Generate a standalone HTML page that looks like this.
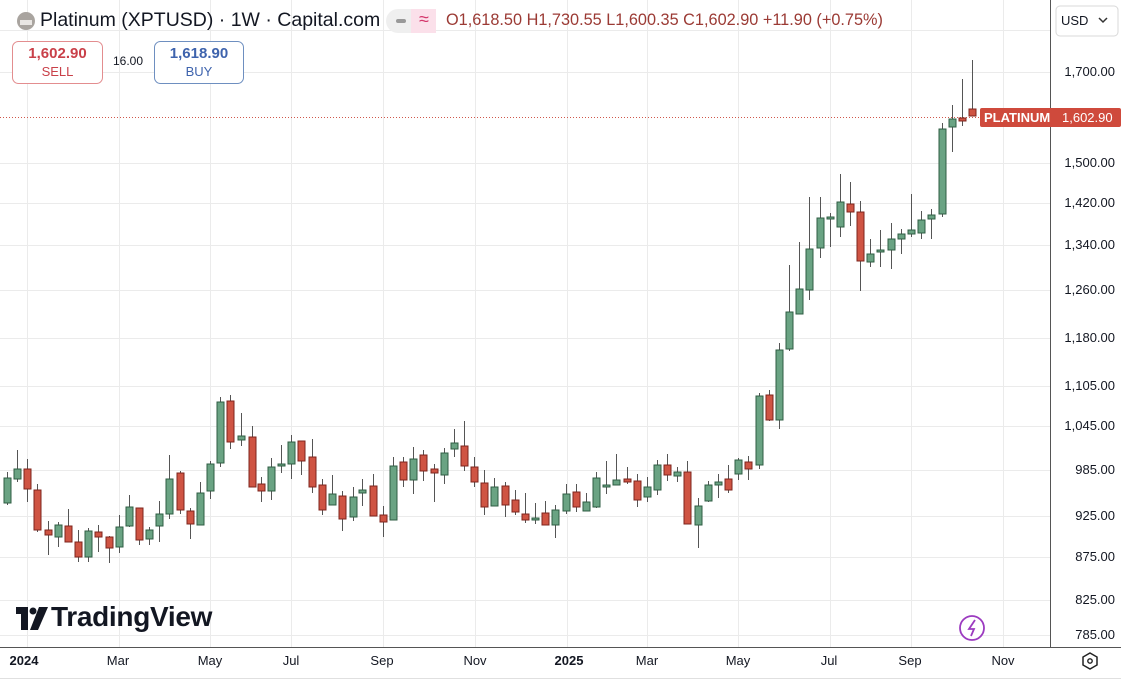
<!DOCTYPE html>
<html><head><meta charset="utf-8"><style>
body{margin:0;background:#fff;font-family:"Liberation Sans",sans-serif;}
#w{position:relative;width:1121px;height:680px;overflow:hidden;background:#fff}
svg{position:absolute;left:0;top:0}
.t{position:absolute;white-space:nowrap}
</style></head><body><div id="w">
<svg width="1121" height="680" id="s">
<g stroke="#ebebeb" stroke-width="1">
<line x1="0" y1="30.5" x2="1050" y2="30.5"/><line x1="0" y1="72.5" x2="1050" y2="72.5"/><line x1="0" y1="163.5" x2="1050" y2="163.5"/><line x1="0" y1="203.5" x2="1050" y2="203.5"/><line x1="0" y1="245.5" x2="1050" y2="245.5"/><line x1="0" y1="290.5" x2="1050" y2="290.5"/><line x1="0" y1="338.5" x2="1050" y2="338.5"/><line x1="0" y1="386.5" x2="1050" y2="386.5"/><line x1="0" y1="426.5" x2="1050" y2="426.5"/><line x1="0" y1="470.5" x2="1050" y2="470.5"/><line x1="0" y1="516.5" x2="1050" y2="516.5"/><line x1="0" y1="557.5" x2="1050" y2="557.5"/><line x1="0" y1="600.5" x2="1050" y2="600.5"/><line x1="0" y1="635.5" x2="1050" y2="635.5"/>
<line x1="27.5" y1="0" x2="27.5" y2="647"/><line x1="119.5" y1="0" x2="119.5" y2="647"/><line x1="210.5" y1="0" x2="210.5" y2="647"/><line x1="291.5" y1="0" x2="291.5" y2="647"/><line x1="383.5" y1="0" x2="383.5" y2="647"/><line x1="475.5" y1="0" x2="475.5" y2="647"/><line x1="567.5" y1="0" x2="567.5" y2="647"/><line x1="647.5" y1="0" x2="647.5" y2="647"/><line x1="738.5" y1="0" x2="738.5" y2="647"/><line x1="830.5" y1="0" x2="830.5" y2="647"/><line x1="911.5" y1="0" x2="911.5" y2="647"/><line x1="1003.5" y1="0" x2="1003.5" y2="647"/>
</g>
<line x1="0" y1="117.5" x2="980" y2="117.5" stroke="#d0574b" stroke-width="1" stroke-dasharray="1,2"/>
<g id="c"></g>
<line x1="1050.5" y1="0" x2="1050.5" y2="647" stroke="#555" stroke-width="1"/>
<line x1="0" y1="647.5" x2="1121" y2="647.5" stroke="#555" stroke-width="1"/>
<line x1="0" y1="678.5" x2="1121" y2="678.5" stroke="#e0e0e0"/>
<rect x="980" y="108" width="141" height="19" rx="2" fill="#cf4a3c"/>
<rect x="1056" y="6" width="62" height="30" rx="4" fill="#fff" stroke="#d8d8d8"/>
<path d="M1099 18 l4 4 l4 -4" fill="none" stroke="#333" stroke-width="1.5"/>
<circle cx="972" cy="628" r="12" fill="#fff" stroke="#9c3bc0" stroke-width="1.8"/>
<path d="M975 620 l-6 9 h5 l-3 7" fill="none" stroke="#9c3bc0" stroke-width="1.8"/>
<polygon points="1090,653 1097,657 1097,665 1090,669 1083,665 1083,657" fill="none" stroke="#222" stroke-width="1.5"/>
<circle cx="1090" cy="661" r="2.2" fill="none" stroke="#222" stroke-width="1.4"/>
<circle cx="26" cy="21" r="9" fill="#a9a49f"/>
<rect x="20" y="20" width="12" height="5" fill="#e9e6e3"/>
<rect x="386" y="9" width="50" height="24" rx="12" fill="#efefef"/>
<rect x="411" y="9" width="25" height="24" rx="0" fill="#fbe0ea"/>
<rect x="396" y="19" width="10" height="4" rx="2" fill="#999"/>
<rect x="12.5" y="41.5" width="90" height="42" rx="6" fill="#fff" stroke="#e38d8f"/>
<rect x="154.5" y="41.5" width="89" height="42" rx="6" fill="#fff" stroke="#6e8fc0"/>
<rect x="16" y="607" width="10" height="7" fill="#131722"/><rect x="21" y="607" width="7" height="23" fill="#131722"/>
<circle cx="33" cy="611" r="3.5" fill="#131722"/><polygon points="39,607 48,607 38,630 30,630" fill="#131722"/>
</svg>
<div class="t" style="left:40px;top:9px;font-size:19.5px;color:#131722">Platinum (XPTUSD) · 1W · Capital.com</div>
<div class="t" style="left:419px;top:9px;font-size:18px;color:#d4366b">≈</div>
<div class="t" style="left:446px;top:11px;font-size:16.3px;color:#9b3a34">O1,618.50 H1,730.55 L1,600.35 C1,602.90 +11.90 (+0.75%)</div>
<div class="t" style="left:12px;top:45px;width:91px;text-align:center;font-size:15px;font-weight:bold;color:#c94049">1,602.90</div>
<div class="t" style="left:12px;top:64px;width:91px;text-align:center;font-size:13px;color:#c94049">SELL</div>
<div class="t" style="left:113px;top:54px;font-size:12px;color:#131722">16.00</div>
<div class="t" style="left:154px;top:45px;width:90px;text-align:center;font-size:15px;font-weight:bold;color:#3e63ad">1,618.90</div>
<div class="t" style="left:154px;top:64px;width:90px;text-align:center;font-size:13px;color:#3e63ad">BUY</div>
<div class="t" style="left:1061px;top:13px;font-size:13px;color:#131722">USD</div>
<div class="t" style="left:984px;top:110px;font-size:13px;color:#fff;font-weight:bold">PLATINUM</div>
<div class="t" style="left:1062px;top:110px;font-size:13px;color:#fff">1,602.90</div>
<div class="t" style="left:51px;top:601px;font-size:28px;font-weight:bold;color:#131722;letter-spacing:-0.3px">TradingView</div>
<div id="ax"></div>
<div id="bx"></div>
</div>
<script>
var d=[[7,472,505,478,503,1],[17,450,482,469,479,1],[27,459,502,469,489,0],[37,484,532,490,530,0],[48,521,555,530,535,0],[58,522,547,525,537,1],[68,509,542,526,542,0],[78,530,562,542,557,0],[88,528,562,531,557,1],[98,525,552,532,537,0],[109,536,563,537,548,0],[119,515,553,527,547,1],[129,495,527,507,526,1],[139,508,545,508,540,0],[149,527,545,530,539,1],[159,501,542,514,526,1],[169,455,519,479,514,1],[180,471,514,473,510,0],[190,508,539,511,524,0],[200,482,525,493,525,1],[210,461,499,464,491,1],[220,397,467,402,463,1],[230,395,449,401,442,0],[241,413,446,436,440,1],[252,426,487,437,487,0],[261,477,502,484,491,0],[271,458,500,467,491,1],[281,445,473,464,465,1],[291,435,479,442,464,1],[301,441,475,441,461,0],[312,439,493,457,487,0],[322,479,515,485,510,0],[332,475,505,494,505,1],[342,491,531,496,519,0],[353,487,521,497,517,1],[362,479,506,490,493,1],[373,474,516,486,516,0],[383,506,537,515,522,0],[393,457,520,466,520,1],[403,457,487,462,480,0],[413,447,494,459,480,1],[423,450,481,455,471,0],[434,464,502,469,473,0],[444,448,484,453,475,1],[454,429,457,443,449,1],[464,421,471,446,466,0],[474,457,487,467,482,0],[484,470,515,483,507,0],[494,478,506,487,506,1],[505,482,517,486,505,0],[515,490,515,500,512,0],[525,493,523,514,520,0],[535,503,524,518,520,1],[545,501,525,513,525,0],[555,505,538,510,525,1],[566,484,514,494,511,1],[576,484,512,492,507,0],[586,493,511,502,511,1],[596,472,508,478,507,1],[606,461,494,485,486,1],[616,454,485,480,485,1],[627,467,484,479,482,0],[637,474,507,481,500,0],[647,477,502,487,497,1],[657,460,495,465,490,1],[667,454,481,465,475,0],[677,467,482,472,476,1],[687,461,524,472,524,0],[698,498,548,506,525,1],[708,481,502,485,501,1],[718,474,498,482,485,1],[728,465,493,479,490,0],[738,458,480,460,474,1],[748,456,480,462,469,0],[759,393,469,396,465,1],[769,390,421,395,420,0],[779,343,429,350,420,1],[789,265,351,312,349,1],[799,242,314,289,314,1],[809,197,300,249,290,1],[820,197,258,218,248,1],[830,213,247,217,219,1],[840,174,237,202,227,1],[850,182,226,204,212,0],[860,201,291,212,261,0],[870,239,267,254,262,1],[880,230,267,250,252,1],[891,223,269,239,250,1],[901,229,254,234,239,1],[911,194,237,230,234,1],[921,211,239,220,233,1],[931,209,239,215,219,1],[942,123,217,129,214,1],[952,105,152,119,127,1],[962,79,126,118,121,0],[972,60,116,109,116,0]];
var h='';d.forEach(function(c){var f=c[5]?'#6aa383':'#cf5443',s=c[5]?'#2f5c43':'#7d241c';
h+='<line x1="'+(c[0]+.5)+'" y1="'+c[1]+'" x2="'+(c[0]+.5)+'" y2="'+c[2]+'" stroke="#555" stroke-width="1"/>';
h+='<rect x="'+(c[0]-3)+'" y="'+c[3]+'" width="7" height="'+Math.max(2,c[4]-c[3])+'" fill="'+f+'" stroke="'+s+'" stroke-width="1"/>';});
document.getElementById('c').innerHTML=h;
var t=[['1,700.00',72],['1,500.00',163],['1,420.00',203],['1,340.00',245],['1,260.00',290],['1,180.00',338],['1,105.00',386],['1,045.00',426],['985.00',470],['925.00',516],['875.00',557],['825.00',600],['785.00',635]];
var a='';t.forEach(function(x){a+='<div class="t" style="left:1052px;width:63px;text-align:right;top:'+(x[1]-8)+'px;font-size:13px;color:#131722">'+x[0]+'</div>';});
document.getElementById('ax').innerHTML=a;
var b=[['2024',24,1],['Mar',118],['May',210],['Jul',291],['Sep',382],['Nov',475],['2025',569,1],['Mar',647],['May',738],['Jul',829],['Sep',910],['Nov',1003]];
var q='';b.forEach(function(x){q+='<div class="t" style="left:'+(x[1]-30)+'px;width:60px;text-align:center;top:653px;font-size:13px;color:#131722;'+(x[2]?'font-weight:bold':'')+'">'+x[0]+'</div>';});
document.getElementById('bx').innerHTML=q;
</script>
</body></html>
